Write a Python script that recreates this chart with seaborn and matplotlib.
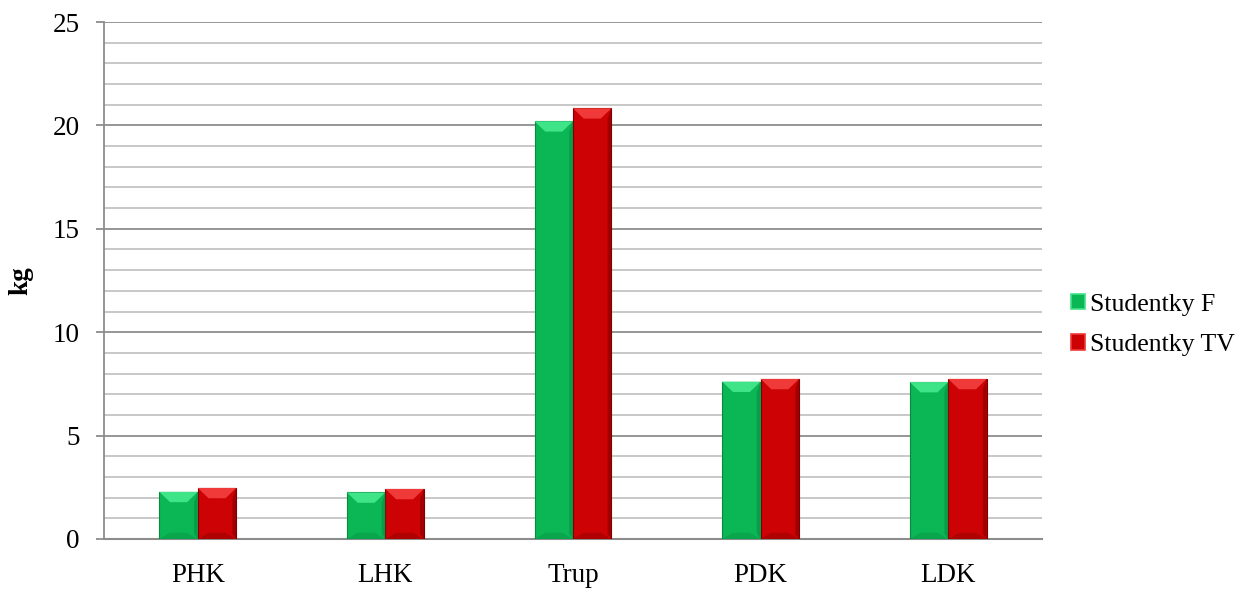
import numpy as np
import pandas as pd
import matplotlib
matplotlib.use("Agg")
import matplotlib.pyplot as plt
from matplotlib.patches import Polygon
import seaborn as sns

categories = ["PHK", "LHK", "Trup", "PDK", "LDK"]
series_names = ["Studentky F", "Studentky TV"]
studentky_f = [2.28, 2.25, 20.2, 7.61, 7.59]
studentky_tv = [2.47, 2.42, 20.83, 7.74, 7.74]

df = pd.DataFrame({
    "kat": categories * 2,
    "skupina": [series_names[0]] * len(categories) + [series_names[1]] * len(categories),
    "kg": studentky_f + studentky_tv,
})

sns.set_theme(style="white")
plt.rcParams["font.family"] = ["Liberation Serif", "DejaVu Serif"]
plt.rcParams["text.color"] = "black"
plt.rcParams["axes.labelcolor"] = "black"
plt.rcParams["xtick.color"] = "black"
plt.rcParams["ytick.color"] = "black"

colors = {series_names[0]: "#0BB655", series_names[1]: "#CC0204"}
light = {series_names[0]: "#3FE388", series_names[1]: "#F03A3A"}
dark = {series_names[0]: "#078A3E", series_names[1]: "#7E0000"}

fig = plt.figure(figsize=(12.44, 5.94), dpi=100)
ax = fig.add_axes([104 / 1244, 1 - 539 / 594, 938 / 1244, 517 / 594])

sns.barplot(data=df, x="kat", y="kg", hue="skupina", palette=colors,
            width=0.41, dodge=True, saturation=1, legend=False, ax=ax, zorder=3)

# bevelled look on each bar
for cont, name in zip(ax.containers, series_names):
    for p in cont.patches:
        x0, y0 = p.get_x(), p.get_y()
        w, h = p.get_width(), p.get_height()
        p.set_edgecolor(dark[name])
        p.set_linewidth(0.8)
        bx = w * 0.28
        by = min(0.5, h * 0.3)
        top = y0 + h
        # top facet
        ax.add_patch(Polygon([(x0, top), (x0 + w, top), (x0 + w - bx, top - by), (x0 + bx, top - by)],
                             closed=True, facecolor=light[name], edgecolor="none", zorder=4))
        # right facet
        ax.add_patch(Polygon([(x0 + w, top), (x0 + w, y0), (x0 + w - bx * 0.35, y0 + by * 0.5),
                              (x0 + w - bx * 0.35, top - by)],
                             closed=True, facecolor=dark[name], edgecolor="none", alpha=0.55, zorder=4))
        # bottom facet
        ax.add_patch(Polygon([(x0, y0), (x0 + w, y0), (x0 + w - bx, y0 + by * 0.6), (x0 + bx, y0 + by * 0.6)],
                             closed=True, facecolor=dark[name], edgecolor="none", alpha=0.35, zorder=4))

ax.set_ylim(0, 25)
ax.set_xlim(-0.5, len(categories) - 0.5)
ax.set_yticks(np.arange(0, 26, 5))
ax.set_yticks(np.arange(0, 26, 1), minor=True)
ax.yaxis.grid(True, which="major", color="#8E8E8E", linewidth=1.3, zorder=0)
ax.yaxis.grid(True, which="minor", color="#B9B9B9", linewidth=1.1, zorder=0)
ax.set_axisbelow(True)

for s in ["top", "right"]:
    ax.spines[s].set_visible(False)
ax.spines["left"].set_color("#8C8C8C")
ax.spines["bottom"].set_color("#8C8C8C")
ax.spines["left"].set_linewidth(1.3)
ax.spines["bottom"].set_linewidth(1.5)

ax.tick_params(axis="y", which="major", length=6, width=1.3, color="#8C8C8C",
               labelcolor="black", direction="out", left=True, labelsize=19.5, pad=11.5)
ax.tick_params(axis="y", which="minor", length=0)
ax.tick_params(axis="x", length=0, labelsize=19.5, labelcolor="black", pad=17)

ax.set_xlabel("")
ax.set_ylabel("kg", fontsize=19.5, fontweight="bold", labelpad=14)

handles = [plt.Rectangle((0, 0), 1, 1, facecolor=colors[n], edgecolor=light[n], linewidth=1.2)
           for n in series_names]
fig.legend(handles, series_names, loc="center left", bbox_to_anchor=(0.8425, 0.453),
           frameon=False, fontsize=18.5, handlelength=0.55, handleheight=0.55,
           handletextpad=0.2, labelspacing=0.72)

fig.savefig("out.png", dpi=100)
